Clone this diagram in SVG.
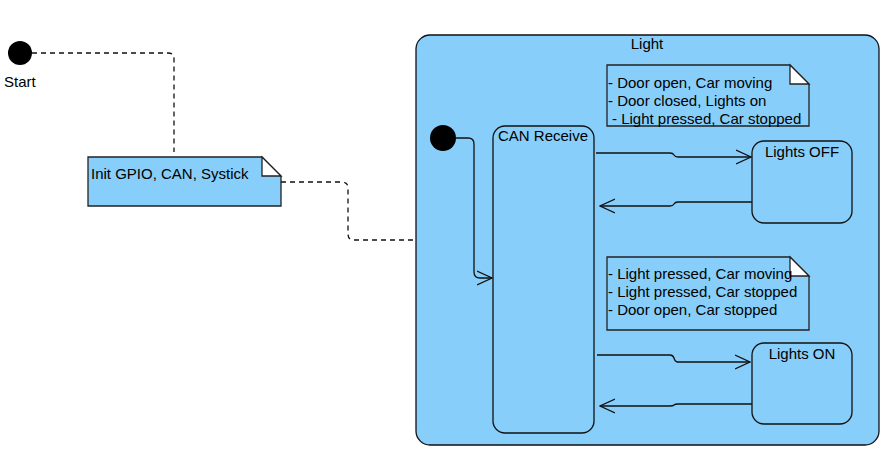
<svg xmlns="http://www.w3.org/2000/svg" width="891" height="453" viewBox="0 0 891 453">
<style>
text{font-family:"Liberation Sans",Arial,sans-serif;font-size:15px;fill:#000}
.st{fill:#87CEFA;stroke:#111;stroke-width:1.3}
.note{fill:#87CEFA;stroke:#222;stroke-width:1.3}
.fold{fill:#fff;stroke:#222;stroke-width:1.3}
.dash{fill:none;stroke:#111;stroke-width:1.3;stroke-dasharray:5,4}
.tr{fill:none;stroke:#111;stroke-width:1.3}
.dot{fill:#000}
</style>
<defs>
<marker id="open" viewBox="0 0 16 16" refX="15" refY="8" markerWidth="16" markerHeight="16" markerUnits="userSpaceOnUse" orient="auto">
<path d="M0,1 L15,8 L0,15" fill="none" stroke="#111" stroke-width="1.3"/>
</marker>
</defs>
<g id="start">
<circle class="dot" cx="20" cy="53" r="12"/>
<text x="4" y="87">Start</text>
</g>
<g id="note-init">
<path class="note" d="M88,157 H262 L281,176 V206 H88 Z"/>
<path class="fold" d="M262,157 V176 H281 Z"/>
<text x="91" y="179">Init GPIO, CAN, Systick</text>
</g>
<g id="light">
<rect class="st" x="416" y="35" width="463" height="410" rx="14"/>
<text x="647" y="49" text-anchor="middle">Light</text>
</g>
<g id="inner-start">
<circle class="dot" cx="443" cy="138" r="13"/>
</g>
<g id="can-receive">
<rect class="st" x="493" y="126" width="101" height="307" rx="12"/>
<text x="498" y="141">CAN Receive</text>
</g>
<g id="note-off">
<path class="note" d="M607,65 H790 L809,84 V126 H607 Z"/>
<path class="fold" d="M790,65 V84 H809 Z"/>
<text x="608" y="88">- Door open, Car moving</text>
<text x="608" y="106">- Door closed, Lights on</text>
<text x="612" y="124">- Light pressed, Car stopped</text>
</g>
<g id="lights-off">
<rect class="st" x="752" y="141" width="100" height="82" rx="12"/>
<text x="802" y="157" text-anchor="middle">Lights OFF</text>
</g>
<g id="note-on">
<path class="note" d="M607,257 H790 L809,276 V330 H607 Z"/>
<path class="fold" d="M790,257 V276 H809 Z"/>
<text x="608" y="279">- Light pressed, Car moving</text>
<text x="608" y="297">- Light pressed, Car stopped</text>
<text x="608" y="315">- Door open, Car stopped</text>
</g>
<g id="lights-on">
<rect class="st" x="752" y="343" width="100" height="81" rx="12"/>
<text x="802" y="359" text-anchor="middle">Lights ON</text>
</g>
<g id="connectors">
<path class="dash" d="M32,53 H168 Q174,53 174,59 V152"/>
<path class="dash" d="M281,182 H342 Q348,182 348,188 V234 Q348,240 354,240 H416"/>
<path class="tr" marker-end="url(#open)" d="M456,138 H468 Q474,138 474,144 V272 Q474,278 480,278 H492"/>
<path class="tr" marker-end="url(#open)" d="M596,153 H670 Q673,153 674,155 Q675,157 678,157 H751"/>
<path class="tr" marker-end="url(#open)" d="M752,202 H678 Q675,202 674,204 Q673,206 670,206 H600"/>
<path class="tr" marker-end="url(#open)" d="M597,355 H670 Q673,355 674,358 Q675,362 678,362 H750"/>
<path class="tr" marker-end="url(#open)" d="M752,404 H678 Q675,404 674,405 Q673,406 670,406 H600"/>
</g>
</svg>
